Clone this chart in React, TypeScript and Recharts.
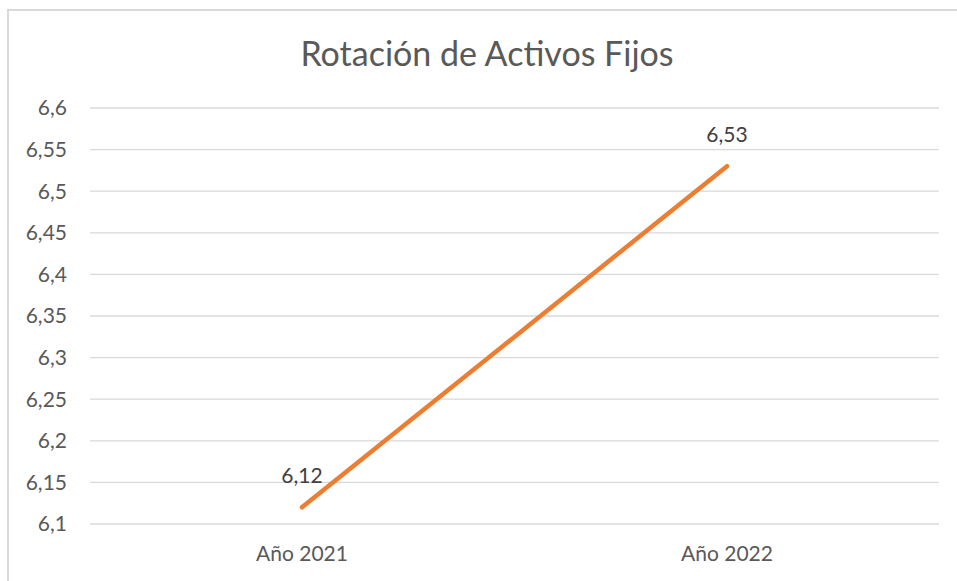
import React from 'react';
import { LineChart, Line, XAxis, YAxis, CartesianGrid, LabelList } from 'recharts';

const title = 'Rotación de Activos Fijos';
const categories = ['Año 2021', 'Año 2022'];
const values = [6.12, 6.53];
const yTicks = [6.1, 6.15, 6.2, 6.25, 6.3, 6.35, 6.4, 6.45, 6.5, 6.55, 6.6];

const data = categories.map((c, i) => ({ name: c, value: values[i] }));
const fmt = (v: number) => String(v).replace('.', ',');

const FONT = 'Lato, "Open Sans", sans-serif';

const PointLabel = (props: any) => {
  const { x, y, value } = props;
  return (
    <text x={x} y={y - 24} textAnchor="middle" fill="#404040" fontSize={21} fontFamily={FONT}>
      {fmt(value)}
    </text>
  );
};

export default function App() {
  return (
    <div style={{ position: 'absolute', left: 0, top: 0, width: 957, height: 581, background: '#fff', overflow: 'hidden', fontFamily: FONT }}>
      <div style={{ position: 'absolute', left: 7, top: 9, width: 1000, height: 1000, borderLeft: '2px solid #d9d9d9', borderTop: '2px solid #d9d9d9' }} />
      <svg width={957} height={100} style={{ position: 'absolute', left: 0, top: 0 }}>
        <text x={487} y={66} textAnchor="middle" fill="#595959" fontSize={34} fontFamily={FONT}>
          {title}
        </text>
      </svg>
      <div style={{ position: 'absolute', left: 0, top: 0 }}>
        <LineChart width={957} height={581} data={data} margin={{ top: 108, right: 18, bottom: 27, left: 30 }}>
          <CartesianGrid vertical={false} stroke="#d9d9d9" strokeWidth={1.3} />
          <XAxis
            dataKey="name"
            axisLine={false}
            tickLine={false}
            height={30}
            tickMargin={16}
            padding={{ left: 212, right: 212 }}
            tick={{ fill: '#595959', fontSize: 21, fontFamily: FONT }}
          />
          <YAxis
            domain={[6.1, 6.6]}
            ticks={yTicks}
            interval={0}
            axisLine={false}
            tickLine={false}
            width={60}
            tickMargin={17}
            tickFormatter={fmt}
            tick={{ fill: '#595959', fontSize: 21, fontFamily: FONT }}
          />
          <Line
            type="linear"
            dataKey="value"
            stroke="#ED7D31"
            strokeWidth={4.5}
            strokeLinecap="round"
            dot={false}
            activeDot={false}
            isAnimationActive={false}
          >
            <LabelList dataKey="value" content={PointLabel} />
          </Line>
        </LineChart>
      </div>
    </div>
  );
}
